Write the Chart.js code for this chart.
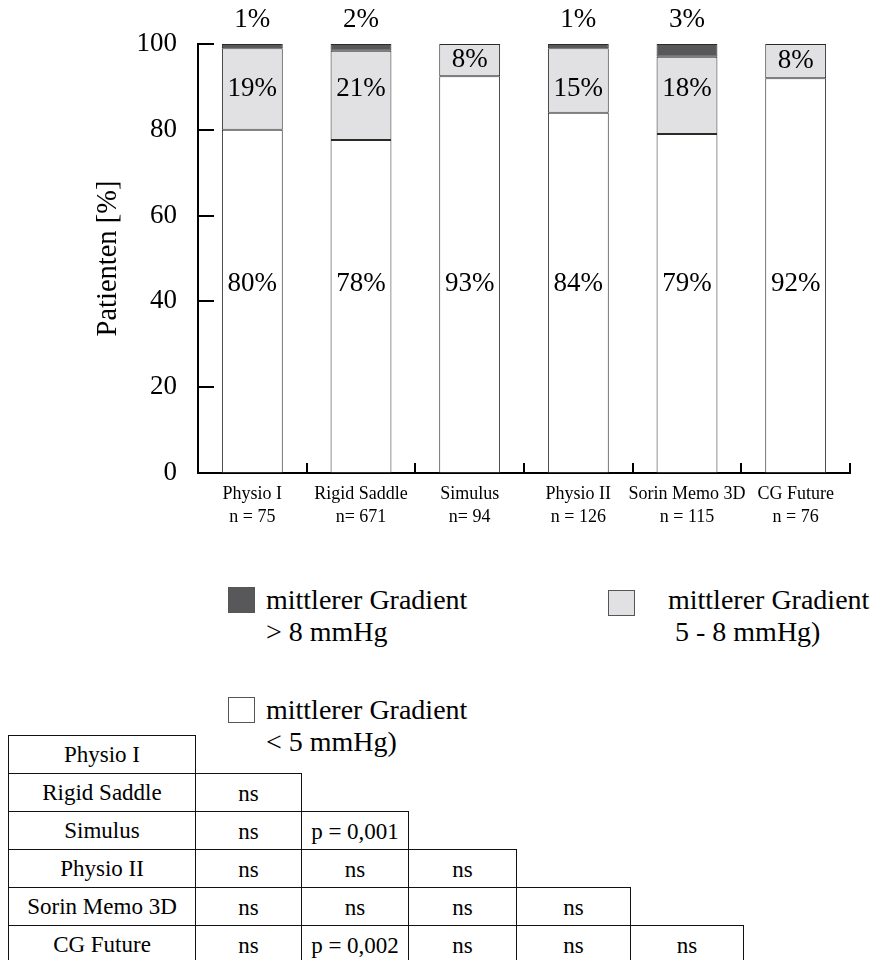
<!DOCTYPE html>
<html>
<head>
<meta charset="utf-8">
<script src="https://cdn.jsdelivr.net/npm/chart.js@4.4.1/dist/chart.umd.min.js"></script>
<style>
    body { margin: 0; background: #fff; color: #000; font-family: 'Liberation Serif', 'Times New Roman', serif; }
    #wrap { position: relative; width: 878px; height: 960px; overflow: hidden; }
    #gradientChart { position: absolute; left: 0; top: 0; }
    .legend-box { position: absolute; width: 27px; height: 26px; box-sizing: border-box; border: 1px solid #555; }
    .legend-text { position: absolute; font-size: 28px; line-height: 32px; white-space: pre; }
    #pairs { position: absolute; left: 8px; top: 735px; border-collapse: collapse; table-layout: fixed; font-size: 23px; line-height: 24px; }
    #pairs td { height: 37px; padding: 0; text-align: center; border: 1px solid #111; white-space: nowrap; }
    #pairs td.empty { border: none; }
    #pairs td.val { padding-top: 3px; height: 34px; }
</style>
</head>
<body>
<div id="wrap">
    <canvas id="gradientChart" width="878" height="540"></canvas>
    <div id="legend"></div>
    <table id="pairs">
        <colgroup>
            <col style="width:187px"><col style="width:106px"><col style="width:107px">
            <col style="width:108px"><col style="width:114px"><col style="width:113px">
        </colgroup>
        <tbody id="pairs-body"></tbody>
    </table>
</div>
<script>
const categories = ['Physio I', 'Rigid Saddle', 'Simulus', 'Physio II', 'Sorin Memo 3D', 'CG Future'];
const sampleSizes = ['n = 75', 'n= 671', 'n= 94', 'n = 126', 'n = 115', 'n = 76'];

// share of patients per mean gradient class, in %
const below5 = [80, 77.6, 92.5, 84, 79, 92];
const from5to8 = [19, 20.8, 7.5, 15, 18, 8];
const above8 = [1, 1.6, 0, 1, 3, 0];

const yTicks = [0, 20, 40, 60, 80, 100];

const seriesLabels = ['mittlerer Gradient\n< 5 mmHg)', 'mittlerer Gradient\n 5 - 8 mmHg)', 'mittlerer Gradient\n> 8 mmHg'];
const seriesColors = ['#ffffff', '#e1e1e3', '#58585a'];

// pairwise comparison results (lower triangle)
const pairResults = [
    [],
    ['ns'],
    ['ns', 'p = 0,001'],
    ['ns', 'ns', 'ns'],
    ['ns', 'ns', 'ns', 'ns'],
    ['ns', 'p = 0,002', 'ns', 'ns', 'ns']
];

const FONT = "'Liberation Serif', 'Times New Roman', serif";
const pct = v => Math.round(v) + '%';

const axisMarks = {
    id: 'axisMarks',
    afterDatasetsDraw(chart) {
        const { ctx, chartArea, scales: { x, y } } = chart;
        ctx.save();
        ctx.strokeStyle = '#000';
        ctx.lineWidth = 2;
        ctx.beginPath();
        // inward ticks on the value axis
        y.ticks.forEach(t => {
            const py = Math.round(y.getPixelForValue(t.value));
            ctx.moveTo(chartArea.left, py);
            ctx.lineTo(chartArea.left + 16, py);
        });
        // short ticks between the categories
        categories.forEach((c, i) => {
            const px = Math.round(x.getPixelForValue(i + 0.5));
            ctx.moveTo(px, chartArea.bottom);
            ctx.lineTo(px, chartArea.bottom - 10);
        });
        ctx.stroke();

        ctx.fillStyle = '#000';
        ctx.font = `27px ${FONT}`;
        ctx.textAlign = 'center';
        ctx.textBaseline = 'middle';
        const lowMeta = chart.getDatasetMeta(0).data;
        const midMeta = chart.getDatasetMeta(1).data;
        const topMeta = chart.getDatasetMeta(2).data;
        categories.forEach((c, i) => {
            const cx = lowMeta[i].x;
            ctx.fillText(pct(below5[i]), cx, y.getPixelForValue(44));
            const mid = midMeta[i];
            const midY = from5to8[i] >= 10 ? y.getPixelForValue(89.5) : (mid.y + mid.base) / 2;
            ctx.fillText(pct(from5to8[i]), cx, midY);
            if (above8[i] > 0) {
                ctx.fillText(pct(above8[i]), cx, topMeta[i].y - 24);
            }
        });
        ctx.restore();
    }
};

const datasetOf = (label, data, color) => ({
    label,
    data,
    backgroundColor: color,
    borderColor: '#2a2a2a',
    borderWidth: 1,
    borderSkipped: false,
    clip: false
});

new Chart(document.getElementById('gradientChart').getContext('2d'), {
    type: 'bar',
    data: {
        labels: categories.map((c, i) => [c, sampleSizes[i]]),
        datasets: [
            datasetOf(seriesLabels[0], below5, seriesColors[0]),
            datasetOf(seriesLabels[1], from5to8, seriesColors[1]),
            datasetOf(seriesLabels[2], above8, seriesColors[2])
        ]
    },
    options: {
        responsive: false,
        animation: false,
        devicePixelRatio: 1,
        layout: { padding: { top: 44, right: 28, left: 0, bottom: 0 } },
        plugins: { legend: { display: false }, tooltip: { enabled: false } },
        datasets: { bar: { categoryPercentage: 1, barPercentage: 0.56 } },
        scales: {
            x: {
                stacked: true,
                grid: { display: false, drawTicks: false },
                border: { color: '#000', width: 2 },
                ticks: {
                    color: '#000',
                    font: { family: FONT, size: 18, lineHeight: 1.28 },
                    padding: 10,
                    maxRotation: 0,
                    autoSkip: false
                },
                afterFit: s => { s.height = 67; }
            },
            y: {
                stacked: true,
                min: 0,
                max: 100,
                afterBuildTicks: s => { s.ticks = yTicks.map(v => ({ value: v })); },
                grid: { display: false, drawTicks: false },
                border: { color: '#000', width: 2 },
                ticks: { color: '#000', font: { family: FONT, size: 27 }, padding: 21 },
                title: {
                    display: true,
                    text: 'Patienten [%]',
                    color: '#000',
                    font: { family: FONT, size: 28.5 },
                    padding: { top: 91, bottom: 0 }
                },
                afterFit: s => { s.width = 198; }
            }
        }
    },
    plugins: [axisMarks]
});

// legend, built from the series names and colours
const legendSpots = [
    { box: [228, 697], text: [266, 694] },
    { box: [608, 590], text: [668, 584] },
    { box: [228, 587], text: [266, 584] }
];
const legend = document.getElementById('legend');
seriesLabels.forEach((label, i) => {
    const spot = legendSpots[i];
    const box = document.createElement('div');
    box.className = 'legend-box';
    box.style.left = spot.box[0] + 'px';
    box.style.top = spot.box[1] + 'px';
    box.style.background = seriesColors[i];
    legend.appendChild(box);
    const txt = document.createElement('div');
    txt.className = 'legend-text';
    txt.style.left = spot.text[0] + 'px';
    txt.style.top = spot.text[1] + 'px';
    txt.textContent = label;
    legend.appendChild(txt);
});

// staircase table of pairwise tests
const body = document.getElementById('pairs-body');
categories.forEach((name, r) => {
    const tr = document.createElement('tr');
    const head = document.createElement('td');
    head.textContent = name;
    tr.appendChild(head);
    for (let c = 0; c < categories.length - 1; c++) {
        const td = document.createElement('td');
        if (c < pairResults[r].length) {
            td.textContent = pairResults[r][c];
            td.className = 'val';
        } else {
            td.className = 'empty';
        }
        tr.appendChild(td);
    }
    body.appendChild(tr);
});
</script>
</body>
</html>
